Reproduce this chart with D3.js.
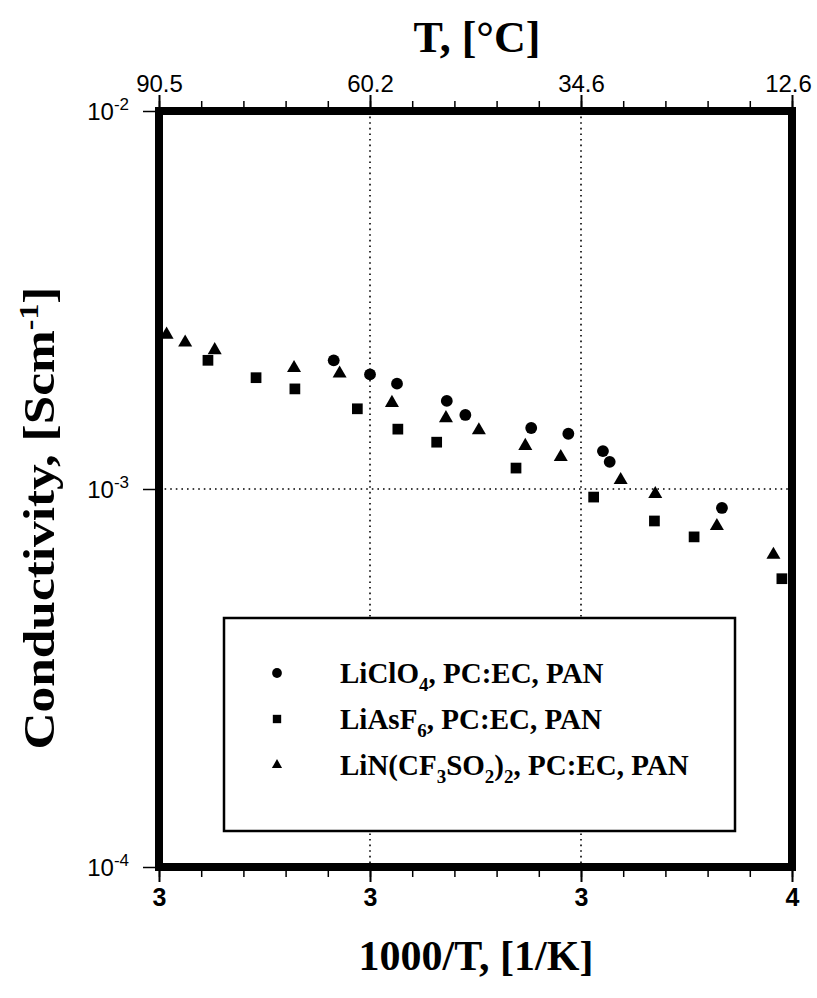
<!DOCTYPE html>
<html lang="en">
<head>
<meta charset="UTF-8">
<title>Conductivity vs 1000/T</title>
<script src="https://d3js.org/d3.v7.min.js"></script>
<style>
  body { margin: 0; background: #fff; }
  .tick text { font-family: "Liberation Sans", Arial, sans-serif; }
  .title { font-family: "Liberation Serif", "Times New Roman", serif; font-weight: bold; }
</style>
</head>
<body>
<div id="chart"></div>
<script>
// data: x = 1000/T [1/K], y = conductivity [S/cm]
const liclo4X = [2.957, 3.000, 3.032, 3.091, 3.113, 3.191, 3.235, 3.276, 3.284, 3.417];
const liclo4Y = [2.19e-3, 2.01e-3, 1.90e-3, 1.71e-3, 1.57e-3, 1.45e-3, 1.40e-3, 1.26e-3, 1.18e-3, 0.891e-3];

const liasf6X = [2.808, 2.865, 2.911, 2.985, 3.033, 3.079, 3.173, 3.265, 3.337, 3.384, 3.488];
const liasf6Y = [2.19e-3, 1.97e-3, 1.84e-3, 1.63e-3, 1.44e-3, 1.33e-3, 1.136e-3, 0.952e-3, 0.823e-3, 0.747e-3, 0.579e-3];

const litfsiX = [2.759, 2.781, 2.816, 2.910, 2.964, 3.026, 3.090, 3.129, 3.184, 3.226, 3.297, 3.338, 3.411, 3.478];
const litfsiY = [2.56e-3, 2.44e-3, 2.33e-3, 2.09e-3, 2.02e-3, 1.69e-3, 1.54e-3, 1.43e-3, 1.30e-3, 1.215e-3, 1.056e-3, 0.97e-3, 0.798e-3, 0.67e-3];

const xTicks = [2.75, 3.0, 3.25, 3.5];
const bottomLabels = ["3", "3", "3", "4"];
const topLabels = ["90.5", "60.2", "34.6", "12.6"];
const yTicks = [1e-2, 1e-3, 1e-4];
const yTickExps = ["-2", "-3", "-4"];

// legend label pieces: [text, "sub" or ""]
const legendNames = [
  [["LiClO", ""], ["4", "sub"], [", PC:EC, PAN", ""]],
  [["LiAsF", ""], ["6", "sub"], [", PC:EC, PAN", ""]],
  [["LiN(CF", ""], ["3", "sub"], ["SO", ""], ["2", "sub"], [")", ""], ["2", "sub"], [", PC:EC, PAN", ""]]
];

const W = 817, H = 998;
const margin = {top: 111, right: 25, bottom: 131, left: 159};
const width = W - margin.left - margin.right,
      height = H - margin.top - margin.bottom;

const svg = d3.select("#chart").append("svg")
    .attr("width", W).attr("height", H);
const g = svg.append("g")
    .attr("transform", `translate(${margin.left},${margin.top})`);

const x = d3.scaleLinear().domain([2.75, 3.5]).range([0, width]);
const y = d3.scaleLog().domain([1e-4, 1e-2]).range([height, 0]);

// dotted grid
g.selectAll(".vgrid").data([3.0, 3.25]).enter().append("line")
    .attr("x1", d => x(d)).attr("x2", d => x(d))
    .attr("y1", 0).attr("y2", height)
    .attr("stroke", "#000").attr("stroke-width", 1.6)
    .attr("stroke-dasharray", "1.6,4");
g.append("line")
    .attr("x1", 0).attr("x2", width)
    .attr("y1", y(1e-3)).attr("y2", y(1e-3))
    .attr("stroke", "#000").attr("stroke-width", 1.6)
    .attr("stroke-dasharray", "1.6,4");

// minor x ticks, top and bottom
const minor = d3.range(2.75, 3.5001, 0.05);
g.append("g")
    .call(d3.axisTop(x).tickValues(minor).tickSize(10).tickFormat(""))
    .call(a => a.select(".domain").remove())
    .selectAll("line").attr("stroke-width", 1.5);
g.append("g")
    .attr("transform", `translate(0,${height})`)
    .call(d3.axisBottom(x).tickValues(minor).tickSize(10).tickFormat(""))
    .call(a => a.select(".domain").remove())
    .selectAll("line").attr("stroke-width", 1.5);

// major x ticks
const topAxis = g.append("g")
    .call(d3.axisTop(x).tickValues(xTicks).tickSize(16).tickPadding(3)
        .tickFormat((d, i) => topLabels[i]));
topAxis.select(".domain").remove();
topAxis.selectAll("line").attr("stroke-width", 2);
topAxis.selectAll("text").style("font-size", "24px").attr("fill", "#000")
    .attr("dx", (d, i) => i === xTicks.length - 1 ? -4 : 0);

const botAxis = g.append("g")
    .attr("transform", `translate(0,${height})`)
    .call(d3.axisBottom(x).tickValues(xTicks).tickSize(15).tickPadding(6)
        .tickFormat((d, i) => bottomLabels[i]));
botAxis.select(".domain").remove();
botAxis.selectAll("line").attr("stroke-width", 2);
botAxis.selectAll("text").style("font-size", "25px").attr("font-weight", "bold").attr("fill", "#000");

// y ticks
const leftAxis = g.append("g")
    .call(d3.axisLeft(y).tickValues(yTicks).tickSize(16).tickFormat(""));
leftAxis.select(".domain").remove();
leftAxis.selectAll("line").attr("stroke-width", 1.5);
leftAxis.selectAll(".tick").append("text")
    .attr("x", -30).attr("dy", "0.35em")
    .attr("text-anchor", "end").attr("fill", "#000")
    .style("font-size", "24px")
    .each(function(d, i) {
      const t = d3.select(this);
      t.append("tspan").text("10");
      t.append("tspan").style("font-size", "17px").attr("dy", "-0.6em").text(yTickExps[i]);
    });

// frame
g.append("rect")
    .attr("width", width).attr("height", height)
    .attr("fill", "none").attr("stroke", "#000").attr("stroke-width", 8);

// markers
const circ = d3.symbol().type(d3.symbolCircle).size(110);
const sq = d3.symbol().type(d3.symbolSquare).size(115);
const tri = d3.symbol().type(d3.symbolTriangle).size(85);

const series = [
  {xs: liclo4X, ys: liclo4Y, sym: circ},
  {xs: liasf6X, ys: liasf6Y, sym: sq},
  {xs: litfsiX, ys: litfsiY, sym: tri}
];
series.forEach(s => {
  g.append("g").selectAll("path")
    .data(s.xs.map((v, i) => [v, s.ys[i]]))
    .enter().append("path")
      .attr("transform", d => `translate(${x(d[0])},${y(d[1])})`)
      .attr("d", s.sym)
      .attr("fill", "#000");
});

// legend
const lg = svg.append("g").attr("transform", "translate(224,618)");
lg.append("rect")
    .attr("width", 511).attr("height", 213)
    .attr("fill", "#fff").attr("stroke", "#000").attr("stroke-width", 2.5);
const legSyms = [
  d3.symbol().type(d3.symbolCircle).size(75),
  d3.symbol().type(d3.symbolSquare).size(70),
  d3.symbol().type(d3.symbolTriangle).size(45)
];
legendNames.forEach((parts, i) => {
  const cy = 55 + i * 46;
  lg.append("path")
      .attr("transform", `translate(53,${cy})`)
      .attr("d", legSyms[i]).attr("fill", "#000");
  const t = lg.append("text")
      .attr("class", "title")
      .attr("x", 116).attr("y", cy + 10)
      .style("font-size", "29px");
  parts.forEach(([txt, kind], j) => {
    const prev = j > 0 ? parts[j - 1][1] : "";
    let dy = 0;
    if (kind === "sub" && prev !== "sub") dy = 8;
    if (kind !== "sub" && prev === "sub") dy = -8;
    t.append("tspan")
      .attr("dy", dy)
      .style("font-size", kind === "sub" ? "19px" : "29px")
      .text(txt);
  });
});

// axis titles
svg.append("text").attr("class", "title")
    .attr("x", 477).attr("y", 52)
    .attr("text-anchor", "middle").style("font-size", "44px")
    .text("T, [°C]");
svg.append("text").attr("class", "title")
    .attr("x", 476).attr("y", 970)
    .attr("text-anchor", "middle").style("font-size", "42px")
    .text("1000/T, [1/K]");
const yt = svg.append("text").attr("class", "title")
    .attr("transform", "translate(54,518) rotate(-90)")
    .attr("text-anchor", "middle").style("font-size", "45px")
    .attr("textLength", 463).attr("lengthAdjust", "spacingAndGlyphs");
yt.append("tspan").text("Conductivity, [Scm");
yt.append("tspan").style("font-size", "28px").attr("dy", -16).text("-1");
yt.append("tspan").attr("dy", 16).text("]");
</script>
</body>
</html>
